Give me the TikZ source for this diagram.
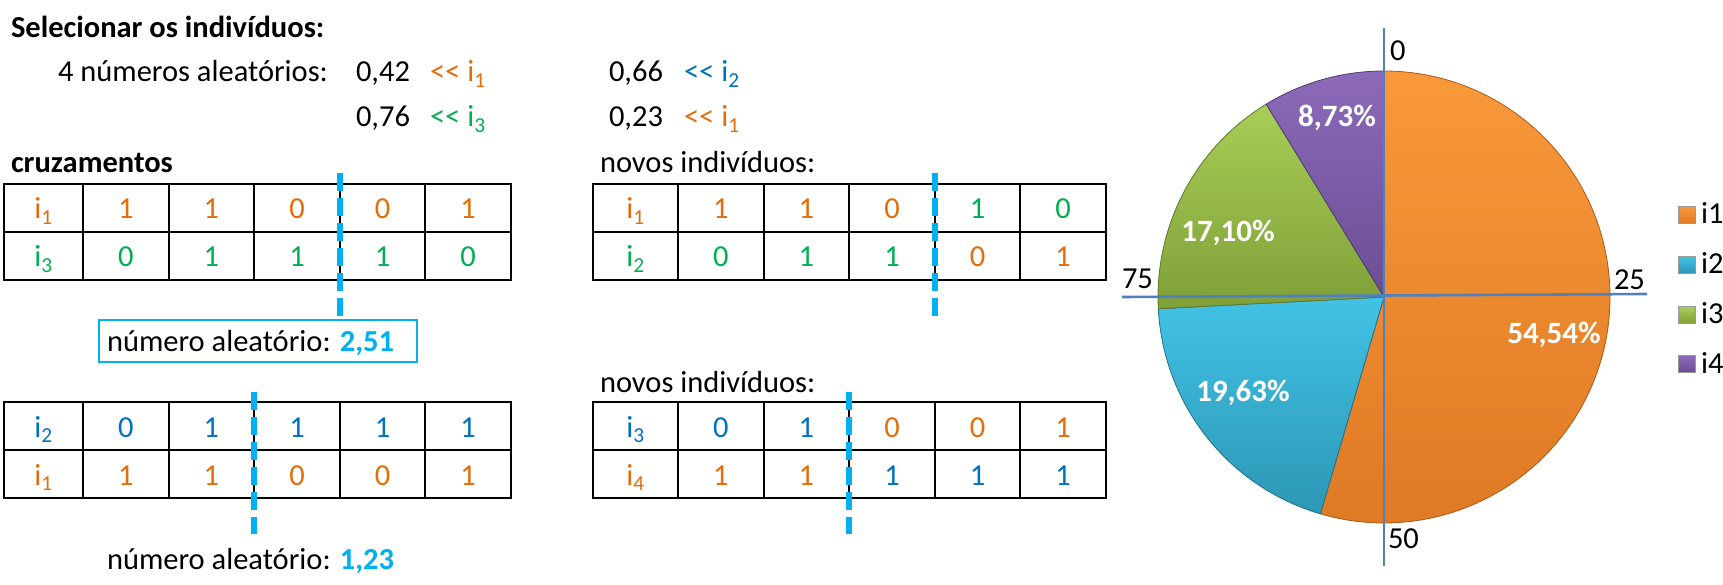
\documentclass[tikz,border=0pt]{standalone}
\usepackage{fontspec}
\setmainfont{Carlito}
\definecolor{tor}{HTML}{E46C0A}
\definecolor{tgr}{HTML}{00B050}
\definecolor{tbl}{HTML}{0070C0}
\definecolor{lb}{HTML}{00B0F0}
\definecolor{axb}{HTML}{4F81BD}
\definecolor{porT}{HTML}{F9993A}
\definecolor{porB}{HTML}{DE7924}
\definecolor{pcyT}{HTML}{42C2E6}
\definecolor{pcyB}{HTML}{2C97B5}
\definecolor{pgrT}{HTML}{A8CE57}
\definecolor{pgrB}{HTML}{7F9F38}
\definecolor{ppuT}{HTML}{8C6ABA}
\definecolor{ppuB}{HTML}{6A4E93}
\newcommand{\fsz}{\fontsize{30.5}{36}\selectfont}
\tikzset{
  txt/.style={inner sep=0pt,outer sep=0pt,font=\fsz,anchor=base west},
  cell/.style={inner sep=0pt,outer sep=0pt,font=\fsz,anchor=base},
  grid/.style={draw=black,line width=2.2pt},
  cut/.style={draw=lb,line width=6pt,dash pattern=on 18pt off 7pt},
  axis/.style={draw=axb,line width=2.6pt},
  plab/.style={inner sep=0pt,font=\fontsize{31}{36}\selectfont\bfseries,text=white},
  leg/.style={minimum size=17pt,inner sep=0pt,draw=black!40,line width=0.4pt},
}
\newcommand{\ind}[1]{i\textsubscript{#1}}
\begin{document}
\begin{tikzpicture}[x=1pt,y=-1pt]
\useasboundingbox (0,0) rectangle (1723,585);

% ---------- header ----------
\node[txt,font=\fsz\bfseries] (title) at (11,38) {Selecionar os indivíduos:};
\node[txt] (rnd) at (58,82) {4 números aleatórios:};
\node[txt] (r1) at (356,82) {0,42};
\node[txt,text=tor] (r1i) at (430,82) {<\kern0pt< \ind{1}};
\node[txt] (r2) at (609,82) {0,66};
\node[txt,text=tbl] (r2i) at (684,82) {<\kern0pt< \ind{2}};
\node[txt] (r3) at (356,127) {0,76};
\node[txt,text=tgr] (r3i) at (430,127) {<\kern0pt< \ind{3}};
\node[txt] (r4) at (609,127) {0,23};
\node[txt,text=tor] (r4i) at (684,127) {<\kern0pt< \ind{1}};

\node[txt,font=\fsz\bfseries] (cruz) at (11,173) {cruzamentos};
\node[txt] (novos1) at (600,173) {novos indivíduos:};
\node[txt] (novos2) at (600,392) {novos indivíduos:};

% ---------- tables: grids ----------
% table A (top left)
\draw[grid] (4,184) rectangle (511,280);
\draw[grid] (4,232) -- (511,232);
\foreach \x in {83,169,254,340,425} \draw[grid] (\x,184) -- (\x,280);
% table B (top right)
\draw[grid] (593,184) rectangle (1106,280);
\draw[grid] (593,232) -- (1106,232);
\foreach \x in {678,764,849,935,1020} \draw[grid] (\x,184) -- (\x,280);
% table C (bottom left)
\draw[grid] (4,402) rectangle (511,498);
\draw[grid] (4,450) -- (511,450);
\foreach \x in {83,169,254,340,425} \draw[grid] (\x,402) -- (\x,498);
% table D (bottom right)
\draw[grid] (593,402) rectangle (1106,498);
\draw[grid] (593,450) -- (1106,450);
\foreach \x in {678,764,849,935,1020} \draw[grid] (\x,402) -- (\x,498);

% ---------- table contents ----------
% A
\node[cell,text=tor] (a0) at (43.5,219) {\ind{1}};
\foreach \t [count=\i] in {1,1,0,0,1}
  \pgfmathsetmacro{\xx}{83+85.6*(\i-0.5)}
  \node[cell,text=tor] (a1\i) at (\xx,219) {\t};
\node[cell,text=tgr] (a2) at (43.5,267) {\ind{3}};
\foreach \t [count=\i] in {0,1,1,1,0}
  \pgfmathsetmacro{\xx}{83+85.6*(\i-0.5)}
  \node[cell,text=tgr] (a2\i) at (\xx,267) {\t};
% B
\node[cell,text=tor] (b0) at (635.5,219) {\ind{1}};
\foreach \t/\c [count=\i] in {1/tor,1/tor,0/tor,1/tgr,0/tgr}
  \pgfmathsetmacro{\xx}{678+85.6*(\i-0.5)}
  \node[cell,text=\c] (b1\i) at (\xx,219) {\t};
\node[cell,text=tgr] (b2) at (635.5,267) {\ind{2}};
\foreach \t/\c [count=\i] in {0/tgr,1/tgr,1/tgr,0/tor,1/tor}
  \pgfmathsetmacro{\xx}{678+85.6*(\i-0.5)}
  \node[cell,text=\c] (b2\i) at (\xx,267) {\t};
% C
\node[cell,text=tbl] (c0) at (43.5,437) {\ind{2}};
\foreach \t [count=\i] in {0,1,1,1,1}
  \pgfmathsetmacro{\xx}{83+85.6*(\i-0.5)}
  \node[cell,text=tbl] (c1\i) at (\xx,437) {\t};
\node[cell,text=tor] (c2) at (43.5,485) {\ind{1}};
\foreach \t [count=\i] in {1,1,0,0,1}
  \pgfmathsetmacro{\xx}{83+85.6*(\i-0.5)}
  \node[cell,text=tor] (c2\i) at (\xx,485) {\t};
% D
\node[cell,text=tbl] (d0) at (635.5,437) {\ind{3}};
\foreach \t/\c [count=\i] in {0/tbl,1/tbl,0/tor,0/tor,1/tor}
  \pgfmathsetmacro{\xx}{678+85.6*(\i-0.5)}
  \node[cell,text=\c] (d1\i) at (\xx,437) {\t};
\node[cell,text=tor] (d2) at (635.5,485) {\ind{4}};
\foreach \t/\c [count=\i] in {1/tor,1/tor,1/tbl,1/tbl,1/tbl}
  \pgfmathsetmacro{\xx}{678+85.6*(\i-0.5)}
  \node[cell,text=\c] (d2\i) at (\xx,485) {\t};

% ---------- cut lines ----------
\coordinate (cutAt) at (340,173); \coordinate (cutAb) at (340,317);
\coordinate (cutBt) at (935,173); \coordinate (cutBb) at (935,317);
\coordinate (cutCt) at (254,392); \coordinate (cutCb) at (254,534);
\coordinate (cutDt) at (849,392); \coordinate (cutDb) at (849,534);
\draw[cut] (cutAt) -- (cutAb);
\draw[cut] (cutBt) -- (cutBb);
\draw[cut] (cutCt) -- (cutCb);
\draw[cut] (cutDt) -- (cutDb);

% random number labels
\draw[draw=lb,line width=2.4pt] (99,320) rectangle (417,362);
\node[txt] (rand1) at (107,351) {número aleatório:\hspace{0.3em}{\bfseries\color{lb}2,51}};
\node[txt] (rand2) at (107,569) {número aleatório:\hspace{0.3em}{\bfseries\color{lb}1,23}};

% ---------- pie ----------
\coordinate (pc) at (1384,297);
\shade[top color=porT,bottom color=porB,draw=porB!75!black,line width=0.8pt]
  (pc) -- ++(90:226pt) arc[start angle=90,end angle=-106.344,radius=226pt] -- cycle;
\shade[top color=pcyT,bottom color=pcyB,draw=pcyB!75!black,line width=0.8pt]
  (pc) -- ++(-106.344:226pt) arc[start angle=-106.344,end angle=-177.012,radius=226pt] -- cycle;
\shade[top color=pgrT,bottom color=pgrB,draw=pgrB!75!black,line width=0.8pt]
  (pc) -- ++(-177.012:226pt) arc[start angle=-177.012,end angle=-238.572,radius=226pt] -- cycle;
\shade[top color=ppuT,bottom color=ppuB,draw=ppuB!75!black,line width=0.8pt]
  (pc) -- ++(-238.572:226pt) arc[start angle=-238.572,end angle=-270,radius=226pt] -- cycle;

\node[plab] (p4) at (1337,118) {8,73\%};
\node[plab] (p3) at (1228,233) {17,10\%};
\node[plab] (p2) at (1243,393) {19,63\%};
\node[plab] (p1) at (1554,335) {54,54\%};

% axes
\coordinate (axT) at (1384,28); \coordinate (axB) at (1384,566);
\coordinate (axL) at (1122,297); \coordinate (axR) at (1647,294);
\draw[axis] (axT) -- (axB);
\draw[axis] (axL) -- (axR);
\node[txt] (l0) at (1390,61) {0};
\node[txt] (l25) at (1614,289) {25};
\node[txt] (l75) at (1122,288) {75};
\node[txt] (l50) at (1388,548) {50};

% legend
\node[leg,top color=porT,bottom color=porB] (k1) at (1687,215) {};
\node[leg,top color=pcyT,bottom color=pcyB] (k2) at (1687,265) {};
\node[leg,top color=pgrT,bottom color=pgrB] (k3) at (1687,315) {};
\node[leg,top color=ppuT,bottom color=ppuB] (k4) at (1687,364) {};
\node[txt] (t1) at (1701,224) {i1};
\node[txt] (t2) at (1701,273) {i2};
\node[txt] (t3) at (1701,323) {i3};
\node[txt] (t4) at (1701,373) {i4};
\end{tikzpicture}
\end{document}
